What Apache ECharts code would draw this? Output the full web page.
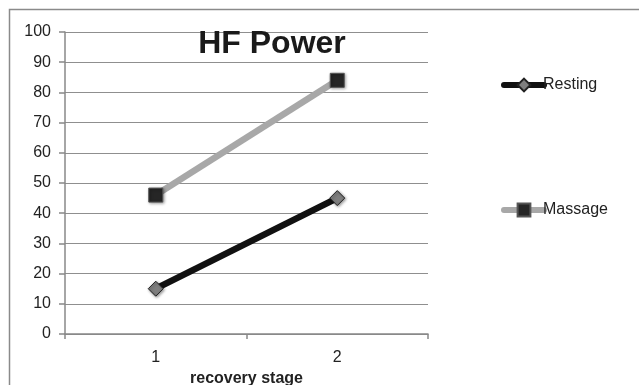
<!DOCTYPE html>
<html>
<head>
<meta charset="utf-8">
<script src="https://cdn.jsdelivr.net/npm/echarts@6/dist/echarts.min.js"></script>
<style>
html,body{margin:0;padding:0;background:#fff;}
#chart{width:639px;height:385px;}
</style>
</head>
<body>
<div id="chart"></div>
<script>
var categories = ['1', '2'];
var restingValues = [15, 45];
var massageValues = [46, 84];
var yTicks = [0, 10, 20, 30, 40, 50, 60, 70, 80, 90, 100];

var FONT = 'Liberation Sans, Arial, sans-serif';
var chart = echarts.init(document.getElementById('chart'), null, {renderer: 'canvas'});
var shadow = {shadowBlur: 3, shadowColor: 'rgba(0,0,0,0.45)', shadowOffsetX: 1, shadowOffsetY: 1};
chart.setOption({
  animation: false,
  backgroundColor: '#fff',
  textStyle: {fontFamily: FONT},
  graphic: [{
    type: 'rect',
    shape: {x: 9.5, y: 9.5, width: 700, height: 500},
    style: {fill: 'none', stroke: '#8a8a8a', lineWidth: 1.5},
    silent: true, z: -1
  }],
  title: {
    text: 'HF Power',
    left: 267, top: 23, textAlign: 'center',
    textStyle: {fontFamily: FONT, fontWeight: 'bold', fontSize: 32, color: '#1a1a1a'}
  },
  legend: [{
    data: ['Resting'], left: 496, top: 72, itemWidth: 40, itemHeight: 16, itemGap: 0,
    lineStyle: {width: 6, cap: 'round'},
    textStyle: {fontFamily: FONT, fontSize: 16, color: '#222', padding: [0, 0, 0, -6]}
  }, {
    data: ['Massage'], left: 496, top: 197, itemWidth: 40, itemHeight: 16, itemGap: 0,
    lineStyle: {width: 6, cap: 'round'},
    textStyle: {fontFamily: FONT, fontSize: 16, color: '#222', padding: [0, 0, 0, -6]}
  }],
  grid: {left: 65, right: 211, top: 32, bottom: 51, containLabel: false, outerBoundsMode: 'none'},
  xAxis: {
    type: 'category', data: categories, boundaryGap: true,
    name: 'recovery stage', nameLocation: 'middle', nameGap: 37,
    nameTextStyle: {fontFamily: FONT, fontWeight: 'bold', fontSize: 16, color: '#222'},
    axisLine: {lineStyle: {color: '#888', width: 1.5}},
    axisTick: {show: true, length: 5, interval: 0, lineStyle: {color: '#888', width: 1.5}},
    axisLabel: {fontFamily: FONT, fontSize: 16, color: '#222', margin: 16}
  },
  yAxis: {
    type: 'value', min: yTicks[0], max: yTicks[yTicks.length - 1], interval: 10,
    axisLine: {show: true, lineStyle: {color: '#888', width: 1.5}},
    axisTick: {show: true, length: 6, lineStyle: {color: '#888', width: 1.5}},
    splitLine: {lineStyle: {color: '#8f8f8f', width: 1}},
    axisLabel: {fontFamily: FONT, fontSize: 16, color: '#222', margin: 14}
  },
  series: [{
    name: 'Resting', type: 'line', data: restingValues,
    symbol: 'diamond', symbolSize: 15,
    lineStyle: {color: '#111', width: 6.5},
    itemStyle: Object.assign({color: '#7f7f7f', borderColor: '#222', borderWidth: 1}, shadow),
    z: 3
  }, {
    name: 'Massage', type: 'line', data: massageValues,
    symbol: 'rect', symbolSize: 14,
    lineStyle: {color: '#a8a8a8', width: 6.5},
    itemStyle: Object.assign({color: '#262626', borderColor: '#555', borderWidth: 1}, shadow),
    z: 3
  }]
});
</script>
</body>
</html>
